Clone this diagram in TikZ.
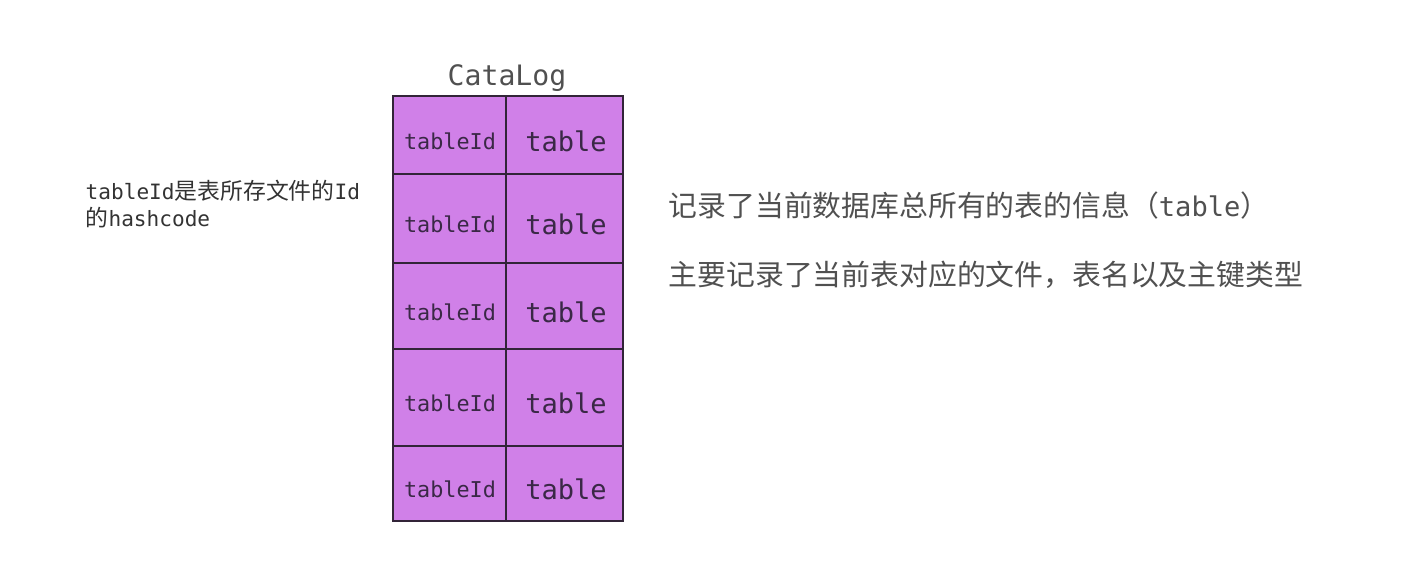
\documentclass[tikz,border=0pt]{standalone}
\usepackage{fontspec}
\usepackage{tikz}
\newfontfamily\monof{DejaVu Sans Mono}
\newfontfamily\cjk{Noto Sans CJK SC}
\definecolor{cellfill}{RGB}{208,128,232}
\definecolor{cellline}{RGB}{50,36,56}
\definecolor{celltext}{RGB}{58,40,70}
\definecolor{notegray}{RGB}{80,80,80}

\begin{document}
\begin{tikzpicture}[x=0.01cm,y=-0.01cm,
	cell/.style={draw=cellline,fill=cellfill,line width=0.4pt},
	idtext/.style={inner sep=0pt,text=celltext,font=\monof\fontsize{6.2}{7.5}\selectfont},
	tabtext/.style={inner sep=0pt,text=celltext,font=\monof\fontsize{7.7}{9}\selectfont},
	note/.style={inner sep=0pt,text=notegray,align=left}]
			\useasboundingbox (0,0) rectangle (1415,588);
			\node[inner sep=0pt,anchor=base,text=notegray,font=\monof\fontsize{8}{9.5}\selectfont] (catalog) at (507,86) {CataLog};
			\foreach \n/\top/\bot in {1/96/174,2/174/263,3/263/349,4/349/446,5/446/521}{
				\pgfmathsetmacro\mid{(\top+\bot)/2+6}
				\draw[cell] (393,\top) rectangle (506,\bot);
				\draw[cell] (506,\top) rectangle (623,\bot);
				\node[idtext] (id\n) at (450,\mid) {tableId};
				\node[tabtext] (tab\n) at (566,\mid) {table};
			}
			\node[note,anchor=west,text=black!80,font=\fontsize{6.5}{7.7}\selectfont] (hashnote) at (85,204) {{\monof\fontsize{6}{7.7}\selectfont tableId}{\cjk 是表所存文件的}{\monof\fontsize{6}{7.7}\selectfont Id}\\{\cjk 的}{\monof\fontsize{6}{7.7}\selectfont hashcode}};
			\node[note,anchor=west] (allnote) at (668,206) {{\cjk\fontsize{8.2}{10}\selectfont 记录了当前数据库总所有的表的信息（}{\monof\fontsize{7.7}{10}\selectfont table}{\cjk\fontsize{8.2}{10}\selectfont ）}};
			\node[note,anchor=west] (mainnote) at (668,275) {{\cjk\fontsize{8.2}{10}\selectfont 主要记录了当前表对应的文件，表名以及主键类型}};
		\end{tikzpicture}
\end{document}
